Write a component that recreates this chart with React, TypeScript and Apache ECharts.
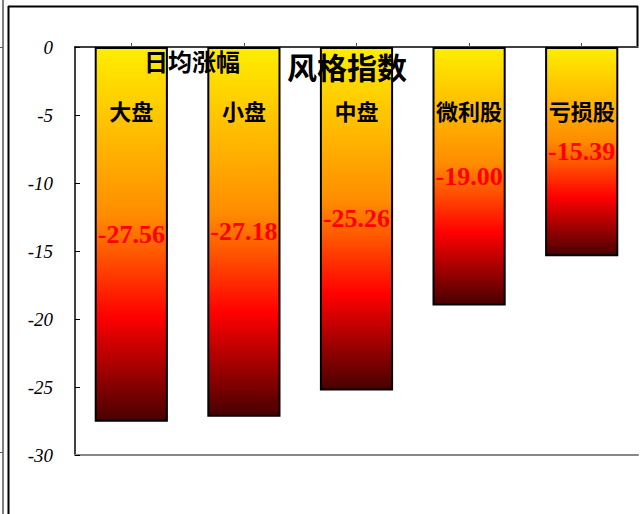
import React, { useEffect, useRef } from "react";
import * as echarts from "echarts";

const categories = ["大盘", "小盘", "中盘", "微利股", "亏损股"];
const values = [-27.56, -27.18, -25.26, -19.0, -15.39];
const yTicks = { min: -30, max: 0, interval: 5 };
const titleMain = "风格指数";
const titleSub = "日均涨幅";

export default function App() {
  const ref = useRef<HTMLDivElement>(null);
  useEffect(() => {
    const chart = echarts.init(ref.current!, null, { renderer: "svg" });
    const grad = new echarts.graphic.LinearGradient(0, 0, 0, 1, [
      { offset: 0, color: "#FFEE00" },
      { offset: 0.45, color: "#FF8C00" },
      { offset: 0.72, color: "#FF0000" },
      { offset: 1, color: "#480000" },
    ]);
    chart.setOption({
      animation: false,
      backgroundColor: "#ffffff",
      grid: { left: 75, right: 2, top: 47, bottom: 59, containLabel: false },
      xAxis: [
        {
          type: "category",
          data: categories,
          position: "top",
          axisLine: { onZero: false, lineStyle: { color: "#000", width: 1.5 } },
          axisTick: { show: true, alignWithLabel: true, length: 4, lineStyle: { color: "#555" } },
          axisLabel: { show: false },
        },
        {
          type: "category",
          data: categories,
          position: "bottom",
          axisLine: { onZero: false, lineStyle: { color: "#888", width: 2 } },
          axisTick: { show: false },
          axisLabel: { show: false },
        },
      ],
      yAxis: {
        type: "value",
        min: yTicks.min,
        max: yTicks.max,
        interval: yTicks.interval,
        axisLine: { show: true, lineStyle: { color: "#000", width: 1.5 } },
        axisTick: { show: true, inside: true, length: 5, lineStyle: { color: "#000" } },
        splitLine: { show: false },
        axisLabel: {
          margin: 22,
          color: "#000",
          fontFamily: "Liberation Serif",
          fontStyle: "italic",
          fontSize: 19,
        },
      },
      series: [
        {
          type: "bar",
          data: values,
          barWidth: "65%",
          barGap: "-100%",
          itemStyle: { color: grad, borderColor: "#000", borderWidth: 2 },
          label: {
            show: true,
            position: "inside",
            formatter: (p: any) => Number(p.value).toFixed(2),
            color: "#FF0000",
            fontFamily: "Liberation Serif",
            fontWeight: "bold",
            fontSize: 26,
          },
        },
        {
          type: "bar",
          data: values,
          barWidth: "65%",
          barGap: "-100%",
          itemStyle: { color: "transparent", borderWidth: 0 },
          label: {
            show: true,
            position: "insideTop",
            offset: [0, 47],
            formatter: "{b}",
            color: "#000",
            fontFamily: "Noto Sans CJK SC",
            fontWeight: "bold",
            fontSize: 22,
          },
          z: 3,
        },
      ],
      graphic: [
        { type: "line", shape: { x1: 3, y1: 0, x2: 3, y2: 514 }, style: { stroke: "#000", lineWidth: 1 } },
        { type: "line", shape: { x1: 8.5, y1: 6, x2: 8.5, y2: 514 }, style: { stroke: "#000", lineWidth: 2 } },
        { type: "line", shape: { x1: 8, y1: 6.5, x2: 638, y2: 6.5 }, style: { stroke: "#000", lineWidth: 2 } },
        { type: "line", shape: { x1: 637.5, y1: 6, x2: 637.5, y2: 46 }, style: { stroke: "#000", lineWidth: 2 } },
        { type: "line", shape: { x1: 0, y1: 47.5, x2: 3, y2: 47.5 }, style: { stroke: "#555", lineWidth: 1 } },
        { type: "line", shape: { x1: 0, y1: 452.5, x2: 3, y2: 452.5 }, style: { stroke: "#555", lineWidth: 1 } },
        {
          type: "text",
          x: 192,
          y: 60,
          z: 100,
          style: {
            text: titleSub,
            fill: "#000",
            font: "bold 24px 'Noto Sans CJK SC'",
            textAlign: "center",
            textVerticalAlign: "middle",
          },
        },
        {
          type: "text",
          x: 347,
          y: 66,
          z: 100,
          style: {
            text: titleMain,
            fill: "#000",
            font: "bold 30px 'Noto Sans CJK SC'",
            textAlign: "center",
            textVerticalAlign: "middle",
          },
        },
      ],
    });
    return () => chart.dispose();
  }, []);
  return (
    <div
      ref={ref}
      style={{ position: "fixed", left: 0, top: 0, width: 640, height: 514 }}
    />
  );
}
